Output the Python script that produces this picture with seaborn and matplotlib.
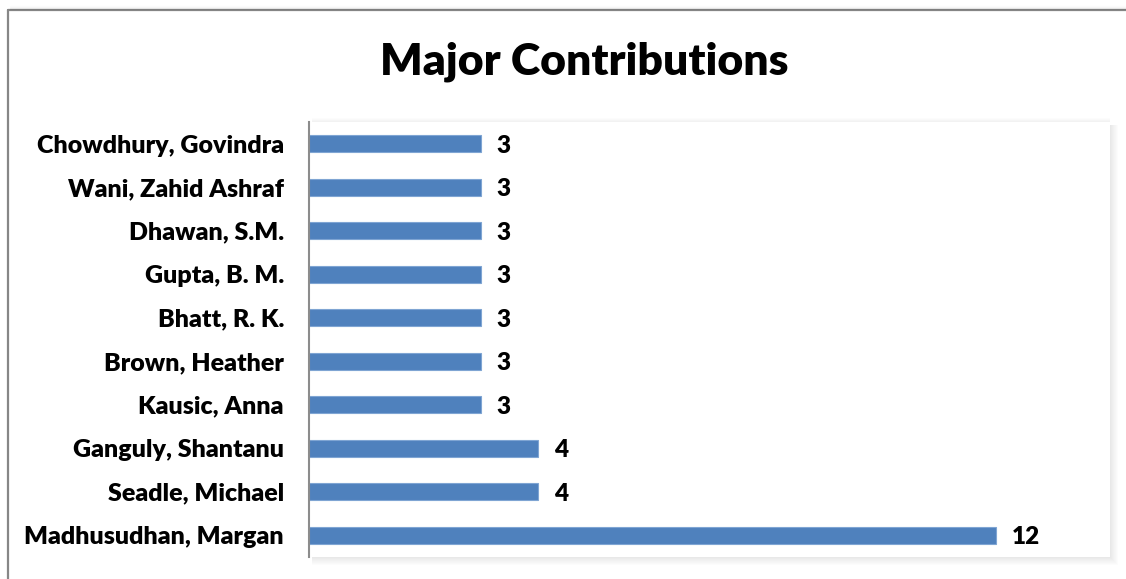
import matplotlib
matplotlib.use("Agg")
import matplotlib.pyplot as plt
from matplotlib.patches import Rectangle
from matplotlib.lines import Line2D
import seaborn as sns
import pandas as pd

authors = [
    "Chowdhury, Govindra",
    "Wani, Zahid Ashraf",
    "Dhawan, S.M.",
    "Gupta, B. M.",
    "Bhatt, R. K.",
    "Brown, Heather",
    "Kausic, Anna",
    "Ganguly, Shantanu",
    "Seadle, Michael",
    "Madhusudhan, Margan",
]
contributions = [3, 3, 3, 3, 3, 3, 3, 4, 4, 12]
title = "Major Contributions"

df = pd.DataFrame({"author": authors, "count": contributions})

sns.set_theme(style="white")
plt.rcParams["font.family"] = ["Lato", "DejaVu Sans"]

W, H = 1126, 579
fig = plt.figure(figsize=(W / 100, H / 100), dpi=100)
fig.patch.set_facecolor("white")

def fx(px):
    return px / W

def fy(py):
    return 1 - py / H

# plot area in pixel terms
left, right, top, bottom = 309, 1110, 122, 557

# soft drop shadow around the plot area
for i in range(1, 9):
    a = 0.09 * (1 - (i - 1) / 8)
    # right edge
    fig.patches.append(Rectangle((fx(right + i - 1), fy(bottom + i)), fx(1), fy(top + 3) - fy(bottom + i),
                                 transform=fig.transFigure, facecolor="black", alpha=a,
                                 edgecolor="none", zorder=0))
    # bottom edge
    fig.patches.append(Rectangle((fx(left + 3), fy(bottom + i)), fx(right - left + i - 4), 1 / H,
                                 transform=fig.transFigure, facecolor="black", alpha=a,
                                 edgecolor="none", zorder=0))
for i in range(1, 5):
    a = 0.05 * (1 - (i - 1) / 4)
    fig.patches.append(Rectangle((fx(left + 3), fy(top - i + 1)), fx(right - left - 3), 1 / H,
                                 transform=fig.transFigure, facecolor="black", alpha=a,
                                 edgecolor="none", zorder=0))

# chart frame (top and left edges)
fig.lines.append(Line2D([fx(8), fx(8)], [fy(10), 0], transform=fig.transFigure,
                        color="#878787", lw=1.6))
fig.lines.append(Line2D([fx(8), 1], [fy(10), fy(10)], transform=fig.transFigure,
                        color="#878787", lw=1.6))
for i in range(1, 5):
    fig.lines.append(Line2D([fx(10), 1], [fy(10 - i), fy(10 - i)], transform=fig.transFigure,
                            color="black", alpha=0.05 * (1 - (i - 1) / 4), lw=1))

ax = fig.add_axes([fx(left), fy(bottom), fx(right - left), fy(top) - fy(bottom)])
ax.set_facecolor("white")
ax.set_zorder(2)

sns.barplot(data=df, y="author", x="count", orient="h", color="#4F81BD",
            saturation=1, width=0.4, edgecolor="#7FA5D3", linewidth=0.8, ax=ax)

ax.set_xlim(0, 14)
ax.set_ylim(len(authors) - 0.5, -0.5)
ax.set_xticks([])
ax.set_xlabel("")
ax.set_ylabel("")
for s in ["top", "right", "bottom"]:
    ax.spines[s].set_visible(False)
ax.spines["left"].set_color("#8C8C8C")
ax.spines["left"].set_linewidth(1.5)
ax.tick_params(axis="y", length=0, pad=18)
for lbl in ax.get_yticklabels():
    lbl.set_fontsize(18)
    lbl.set_fontweight("heavy")
    lbl.set_color("black")

for i, v in enumerate(contributions):
    ax.annotate(f"{v}", xy=(v, i), xytext=(16, -2), textcoords="offset pixels",
                ha="left", va="center", fontsize=17.5, fontweight="heavy", color="black")

fig.text(fx(584), fy(62), title, ha="center", va="center", fontsize=32,
         fontweight="heavy", color="black")

fig.savefig("out.png", dpi=100, facecolor="white")
